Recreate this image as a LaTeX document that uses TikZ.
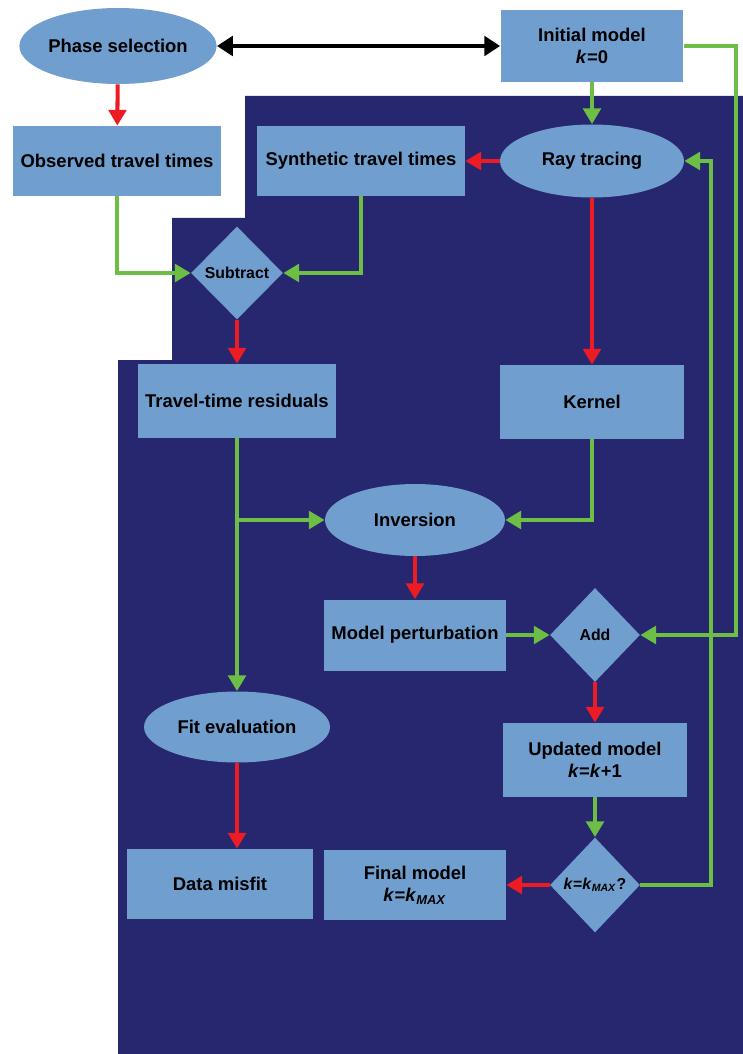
\documentclass[tikz,border=0pt]{standalone}
\usepackage{fontspec}
\setmainfont{Liberation Sans}
\usetikzlibrary{shapes.geometric,arrows.meta}
\definecolor{navybg}{RGB}{39,39,111}
\definecolor{boxblue}{RGB}{112,158,206}
\definecolor{flowgreen}{RGB}{108,190,69}
\definecolor{flowred}{RGB}{237,28,36}
\tikzstyle{every node}=[font=\bfseries\fontsize{10.5}{12.5}\selectfont,inner sep=0pt]
\tikzstyle{box}=[rectangle,fill=boxblue,align=center]
\tikzstyle{oval}=[ellipse,fill=boxblue]
\tikzstyle{decision}=[diamond,fill=boxblue,font=\bfseries\fontsize{9}{11}\selectfont]
\tikzstyle{redflow}=[draw=flowred,line width=2.3pt,-{Triangle[width=10pt,length=9pt]}]
\tikzstyle{greenflow}=[draw=flowgreen,line width=2.3pt,-{Triangle[width=10pt,length=9pt]}]
\tikzstyle{linkarrow}=[draw=black,line width=2.3pt,{Triangle[width=11pt,length=9pt]}-{Triangle[width=11pt,length=9pt]}]

\begin{document}
\begin{tikzpicture}[x=0.02cm,y=-0.02cm]
    \useasboundingbox (0,0) rectangle (743,1054);

    % dark backdrop
    \fill[navybg] (245,96) -- (743,96) -- (743,1054) -- (118,1054) -- (118,360)
        -- (172,360) -- (172,218) -- (245,218) -- cycle;

    % top row
    \node[oval,minimum width=3.8cm,minimum height=1.52cm] (phase) at (118,46) {Phase selection};
    \node[box,minimum width=3.66cm,minimum height=1.44cm] (init) at (592,46) {Initial model\\\textit{k}=0};

    % travel times
    \node[box,minimum width=4.18cm,minimum height=1.4cm] (observed) at (117,161) {Observed travel times};
    \node[box,minimum width=4.16cm,minimum height=1.4cm] (synthetic) at (361,161) {Synthetic travel times};
    \node[oval,minimum width=3.68cm,minimum height=1.46cm] (raytrace) at (592,161) {Ray tracing};
    \node[decision,minimum width=1.84cm,minimum height=1.86cm] (subtract) at (237,273) {Subtract};

    % residuals, kernel, inversion
    \node[box,minimum width=3.96cm,minimum height=1.48cm] (residuals) at (237,401) {Travel-time residuals};
    \node[box,minimum width=3.68cm,minimum height=1.48cm] (kernel) at (592,402) {Kernel};
    \node[oval,minimum width=3.6cm,minimum height=1.44cm] (inversion) at (415,520) {Inversion};

    % model update
    \node[box,minimum width=3.64cm,minimum height=1.42cm] (perturb) at (415,635) {Model perturbation};
    \node[decision,minimum width=1.8cm,minimum height=1.88cm] (add) at (595,635) {Add};
    \node[box,minimum width=3.7cm,minimum height=1.48cm] (updated) at (595,760) {Updated model\\\textit{k}=\textit{k}+1};
    \node[decision,minimum width=1.8cm,minimum height=1.9cm] (check) at (595,885) {\textit{k}=\textit{k}\textsubscript{\textit{MAX}}?};
    \node[box,minimum width=3.64cm,minimum height=1.4cm] (final) at (415,885) {Final model\\\textit{k}=\textit{k}\textsubscript{\textit{MAX}}};

    % fit branch
    \node[oval,minimum width=3.72cm,minimum height=1.42cm] (fit) at (237,727) {Fit evaluation};
    \node[box,minimum width=3.72cm,minimum height=1.4cm] (misfit) at (220,884) {Data misfit};

    \coordinate (outer) at (736,0);
    \coordinate (inner) at (711,0);

    % connectors
    \draw[linkarrow] (phase) -- (init);
    \draw[redflow] (phase) -- (observed);
    \draw[greenflow] (init) -- (raytrace);
    \draw[redflow] (raytrace) -- (synthetic);
    \draw[greenflow] (observed.south) |- (subtract.west);
    \draw[greenflow] (synthetic.south) |- (subtract.east);
    \draw[redflow] (subtract) -- (residuals);
    \draw[redflow] (raytrace) -- (kernel);
    \draw[greenflow] (residuals.south) |- (inversion.west);
    \draw[greenflow] (residuals) -- (fit);
    \draw[greenflow] (kernel.south) |- (inversion.east);
    \draw[redflow] (inversion) -- (perturb);
    \draw[greenflow] (perturb) -- (add);
    \draw[redflow] (add) -- (updated);
    \draw[greenflow] (updated) -- (check);
    \draw[redflow] (check) -- (final);
    \draw[redflow] (fit.south) -- (fit.south |- misfit.north);

    % feedback loops
    \draw[greenflow] (init.east) -- (init.east -| outer) |- (add.east);
    \draw[greenflow] (check.east) -- (check.east -| inner) |- (raytrace.east);
\end{tikzpicture}
\end{document}
